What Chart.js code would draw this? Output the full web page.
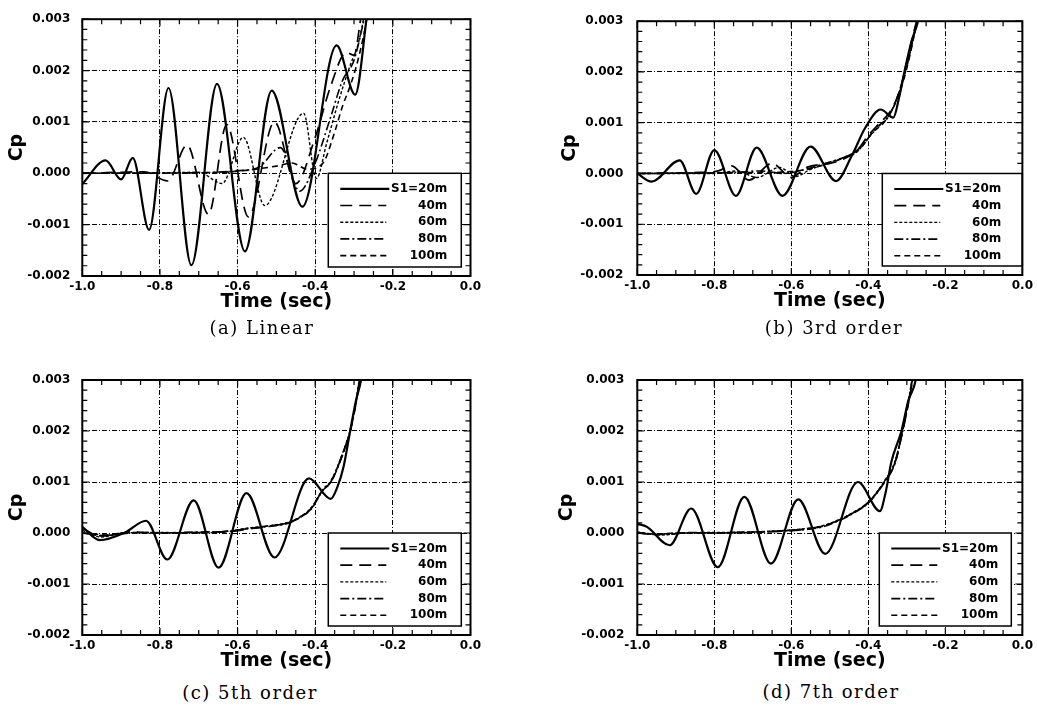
<!DOCTYPE html>
<html>
<head>
<meta charset="utf-8">
<script src="https://cdn.jsdelivr.net/npm/chart.js@4.4.1/dist/chart.umd.min.js"></script>
<style>
    html, body { margin: 0; padding: 0; background: #fff; }
    body { position: relative; width: 1037px; height: 708px; overflow: hidden; }
    .panel { position: absolute; }
    .cap { position: absolute; transform: translate(-50%, -50%); white-space: nowrap;
           font-family: "DejaVu Serif", serif; font-size: 18px; letter-spacing: 1.5px; color: #000; }
</style>
</head>
<body>
<div class="panel" style="left:0;top:0;width:518px;height:320px"><canvas id="chartA"></canvas></div>
<div class="panel" style="left:518px;top:0;width:519px;height:320px"><canvas id="chartB"></canvas></div>
<div class="panel" style="left:0;top:354px;width:518px;height:320px"><canvas id="chartC"></canvas></div>
<div class="panel" style="left:518px;top:354px;width:519px;height:320px"><canvas id="chartD"></canvas></div>
<div class="cap" style="left:262px;top:327px">(a) Linear</div>
<div class="cap" style="left:834px;top:327px">(b) 3rd order</div>
<div class="cap" style="left:250px;top:692px">(c) 5th order</div>
<div class="cap" style="left:831px;top:691px">(d) 7th order</div>
<script>
// -- axes --------------------------------------------------------------------
const TIME_TICKS = [-1.0, -0.8, -0.6, -0.4, -0.2, 0.0];
const TIME_LABELS = ['-1.0', '-0.8', '-0.6', '-0.4', '-0.2', '0.0'];
const CP_TICKS = [-0.002, -0.001, 0.000, 0.001, 0.002, 0.003];
const CP_LABELS = ['-0.002', '-0.001', '0.000', '0.001', '0.002', '0.003'];
const SERIES_LABELS = ['S1=20m', '40m', '60m', '80m', '100m'];

// -- (a) Linear : [time, Cp] -------------------------------------------------
const A_20 = [[-1.0, -0.00021], [-0.94, 0.00025], [-0.90, -0.00012], [-0.87, 0.0003], [-0.828, -0.0011],
    [-0.778, 0.00166], [-0.719, -0.00179], [-0.653, 0.00174], [-0.581, -0.00152], [-0.512, 0.00161],
    [-0.433, -0.00065], [-0.345, 0.00249], [-0.297, 0.00153], [-0.268, 0.003], [-0.25, 0.0042]];
const A_40 = [[-1.0, 0], [-0.90, 0.00002], [-0.84, 0.00003], [-0.78, -0.00015], [-0.73, 0.00055],
    [-0.675, -0.0008], [-0.628, 0.00095], [-0.572, -0.00085], [-0.505, 0.001], [-0.45, -0.0002],
    [-0.40, 0.0007], [-0.36, 0.0017], [-0.32, 0.00235], [-0.30, 0.0023], [-0.285, 0.0029], [-0.27, 0.0038]];
const A_60 = [[-1.0, 0], [-0.80, 0.00001], [-0.70, 0.00002], [-0.64, -0.0002], [-0.585, 0.0007],
    [-0.53, -0.00063], [-0.43, 0.00117], [-0.397, -0.0001], [-0.37, 0.0006], [-0.34, 0.0014],
    [-0.31, 0.0021], [-0.29, 0.0025], [-0.27, 0.0032]];
const A_80 = [[-1.0, 0], [-0.70, 0.00001], [-0.60, 0.00005], [-0.545, 0.00012], [-0.49, 0.0005],
    [-0.44, -0.00035], [-0.40, 0.0002], [-0.36, 0.0011], [-0.33, 0.0018], [-0.30, 0.0022],
    [-0.28, 0.0028], [-0.26, 0.0035]];
const A_100 = [[-1.0, 0], [-0.70, 0.00001], [-0.60, 0.00004], [-0.50, 0.00014], [-0.46, 0.0002],
    [-0.42, 0.00008], [-0.38, 0.0002], [-0.35, 0.0008], [-0.33, 0.0013], [-0.31, 0.0017],
    [-0.29, 0.0022], [-0.265, 0.0031], [-0.25, 0.0039]];

// -- (b) 3rd order -----------------------------------------------------------
const B_20 = [[-1.0, 0], [-0.963, -0.00016], [-0.89, 0.00026], [-0.847, -0.0004], [-0.80, 0.00046],
    [-0.744, -0.00044], [-0.69, 0.00051], [-0.623, -0.00044], [-0.55, 0.00053], [-0.484, -0.00015],
    [-0.443, 0.00035], [-0.408, 0.0009], [-0.368, 0.00126], [-0.335, 0.0011], [-0.32, 0.0015],
    [-0.305, 0.00205], [-0.288, 0.0026], [-0.271, 0.003], [-0.255, 0.0036]];
const B_40 = [[-1.0, 0], [-0.84, 0.00002], [-0.79, 0.00005], [-0.755, 0.00015], [-0.71, -0.00013],
    [-0.65, 0.0002], [-0.60, -0.00008], [-0.56, 0.00012], [-0.50, 0.0002], [-0.46, 0.0003],
    [-0.43, 0.00045], [-0.40, 0.00075], [-0.37, 0.001], [-0.345, 0.0012], [-0.32, 0.0016],
    [-0.30, 0.0022], [-0.285, 0.0027], [-0.275, 0.003], [-0.26, 0.0037]];
const B_60 = [[-1.0, 0], [-0.80, 0], [-0.74, 0.00005], [-0.69, -0.00008], [-0.63, 0.00012],
    [-0.59, -0.00006], [-0.55, 0.00008], [-0.50, 0.00022], [-0.46, 0.00032], [-0.43, 0.00042],
    [-0.40, 0.0007], [-0.37, 0.00095], [-0.345, 0.00115], [-0.32, 0.0016], [-0.30, 0.0021],
    [-0.285, 0.0026], [-0.273, 0.003], [-0.26, 0.0036]];
const B_80 = [[-1.0, 0], [-0.75, 0.00002], [-0.68, 0.00005], [-0.62, 0.0], [-0.58, 0.00005],
    [-0.52, 0.00018], [-0.47, 0.0003], [-0.44, 0.0004], [-0.41, 0.0006], [-0.38, 0.0009],
    [-0.35, 0.0011], [-0.325, 0.0015], [-0.305, 0.002], [-0.288, 0.0025], [-0.275, 0.003], [-0.26, 0.0037]];
const B_100 = [[-1.0, 0], [-0.70, 0.00002], [-0.62, 0.00003], [-0.56, 0.00008], [-0.52, 0.00016],
    [-0.48, 0.00026], [-0.45, 0.00036], [-0.42, 0.0005], [-0.39, 0.0008], [-0.36, 0.001],
    [-0.335, 0.0013], [-0.31, 0.0018], [-0.29, 0.0024], [-0.274, 0.003], [-0.26, 0.0036]];

// -- (c) 5th order -----------------------------------------------------------
const C_20 = [[-1.0, 0.00012], [-0.955, -0.00014], [-0.89, 0.00001], [-0.836, 0.00024], [-0.781, -0.00052],
    [-0.713, 0.00064], [-0.649, -0.00068], [-0.577, 0.00078], [-0.505, -0.00048], [-0.416, 0.00107],
    [-0.36, 0.00067], [-0.343, 0.0009], [-0.327, 0.0013], [-0.31, 0.002], [-0.295, 0.0026],
    [-0.282, 0.003], [-0.27, 0.0037]];
const C_40 = [[-1.0, 0.0001], [-0.96, -0.00005], [-0.92, -0.00004], [-0.88, 0.00002], [-0.80, 0.0],
    [-0.70, 0.00001], [-0.62, 0.00003], [-0.57, 0.00008], [-0.53, 0.00012], [-0.47, 0.0002],
    [-0.44, 0.0003], [-0.41, 0.00048], [-0.38, 0.00085], [-0.36, 0.001], [-0.327, 0.0016],
    [-0.31, 0.002], [-0.294, 0.0026], [-0.286, 0.003], [-0.27, 0.0038]];
const C_60 = [[-1.0, 0.00005], [-0.95, -0.00008], [-0.90, 0.0], [-0.80, 0.00001], [-0.70, 0.0],
    [-0.62, 0.00004], [-0.57, 0.0001], [-0.53, 0.00013], [-0.47, 0.00021], [-0.44, 0.00031],
    [-0.41, 0.0005], [-0.38, 0.00086], [-0.36, 0.00102], [-0.327, 0.00162], [-0.31, 0.00202],
    [-0.294, 0.00262], [-0.287, 0.003], [-0.27, 0.0038]];
const C_80 = [[-1.0, 0.0], [-0.94, -0.00006], [-0.88, 0.00001], [-0.80, 0.0], [-0.70, 0.00002],
    [-0.62, 0.00003], [-0.58, 0.00008], [-0.53, 0.00012], [-0.47, 0.00019], [-0.44, 0.0003],
    [-0.41, 0.00047], [-0.38, 0.00084], [-0.36, 0.00099], [-0.327, 0.00158], [-0.31, 0.00198],
    [-0.294, 0.00258], [-0.285, 0.003], [-0.27, 0.0038]];
const C_100 = [[-1.0, 0.0], [-0.93, -0.00004], [-0.86, 0.00001], [-0.80, 0.0], [-0.70, 0.00001],
    [-0.62, 0.00004], [-0.57, 0.00009], [-0.53, 0.00013], [-0.47, 0.0002], [-0.44, 0.00031],
    [-0.41, 0.00049], [-0.38, 0.00085], [-0.36, 0.001], [-0.327, 0.0016], [-0.31, 0.002],
    [-0.294, 0.0026], [-0.286, 0.003], [-0.27, 0.0038]];

// -- (d) 7th order -----------------------------------------------------------
const D_20 = [[-1.0, 0.00018], [-0.975, 0.00012], [-0.916, -0.00024], [-0.86, 0.00048], [-0.791, -0.00067],
    [-0.722, 0.00071], [-0.653, -0.0006], [-0.582, 0.00066], [-0.512, -0.00041], [-0.427, 0.001],
    [-0.37, 0.00043], [-0.355, 0.0008], [-0.34, 0.0014], [-0.314, 0.002], [-0.296, 0.0026],
    [-0.277, 0.003], [-0.265, 0.0037]];
const D_40 = [[-1.0, 0.0], [-0.95, -0.00003], [-0.90, 0.0], [-0.80, 0.0], [-0.70, 0.00002],
    [-0.62, 0.00004], [-0.56, 0.00008], [-0.52, 0.00013], [-0.48, 0.00024], [-0.443, 0.00038],
    [-0.40, 0.0006], [-0.36, 0.00098], [-0.33, 0.0014], [-0.314, 0.0019], [-0.30, 0.0024],
    [-0.286, 0.003], [-0.27, 0.0038]];
const D_60 = [[-1.0, 0.00002], [-0.94, -0.00004], [-0.88, 0.0], [-0.80, 0.00001], [-0.70, 0.00002],
    [-0.62, 0.00005], [-0.56, 0.00009], [-0.52, 0.00014], [-0.48, 0.00025], [-0.443, 0.00039],
    [-0.40, 0.00061], [-0.36, 0.001], [-0.33, 0.00142], [-0.314, 0.00192], [-0.30, 0.00242],
    [-0.287, 0.003], [-0.27, 0.0038]];
const D_80 = [[-1.0, 0.0], [-0.93, -0.00003], [-0.86, 0.00001], [-0.80, 0.0], [-0.70, 0.00001],
    [-0.62, 0.00004], [-0.56, 0.00007], [-0.52, 0.00012], [-0.48, 0.00023], [-0.443, 0.00037],
    [-0.40, 0.00059], [-0.36, 0.00097], [-0.33, 0.00138], [-0.314, 0.00188], [-0.30, 0.00238],
    [-0.285, 0.003], [-0.27, 0.0038]];
const D_100 = [[-1.0, 0.00001], [-0.95, -0.00002], [-0.90, 0.0], [-0.80, 0.0], [-0.70, 0.00002],
    [-0.62, 0.00004], [-0.56, 0.00008], [-0.52, 0.00013], [-0.48, 0.00024], [-0.443, 0.00038],
    [-0.40, 0.0006], [-0.36, 0.00099], [-0.33, 0.0014], [-0.314, 0.0019], [-0.30, 0.0024],
    [-0.286, 0.003], [-0.27, 0.0038]];

// line styles per S1 (solid, long dash, dotted, dash-dot, short dash)
const LINE_STYLES = [
    { dash: [], w: 2.2 },
    { dash: [12, 7], w: 1.7 },
    { dash: [3, 2], w: 1.4 },
    { dash: [9, 3, 2, 3], w: 1.6 },
    { dash: [6, 4], w: 1.6 },
];

Chart.defaults.font.family = '"DejaVu Sans", sans-serif';
Chart.defaults.color = '#000';

// frame box, inner minor ticks and the boxed legend
const frameAndLegend = {
    id: 'frameAndLegend',
    afterDatasetsDraw(chart, args, opts) {
        const { ctx, chartArea: a, scales: { x, y } } = chart;
        ctx.save();
        ctx.strokeStyle = '#000';
        ctx.lineWidth = 1.2;
        ctx.beginPath();
        for (let i = 0; i <= 20; i++) {
            const px = x.getPixelForValue(-1 + i * 0.05);
            const len = i % 4 === 0 ? 7 : 5;
            ctx.moveTo(px, a.bottom); ctx.lineTo(px, a.bottom - len);
            ctx.moveTo(px, a.top); ctx.lineTo(px, a.top + len);
        }
        for (let i = 0; i <= 25; i++) {
            const py = y.getPixelForValue(-0.002 + i * 0.0002);
            const len = i % 5 === 0 ? 7 : 5;
            ctx.moveTo(a.left, py); ctx.lineTo(a.left + len, py);
            ctx.moveTo(a.right, py); ctx.lineTo(a.right - len, py);
        }
        ctx.stroke();

        // legend box
        const bx = a.left + opts.left, by = y.getPixelForValue(0);
        const bw = opts.width, bh = a.bottom - 9 - by;
        ctx.fillStyle = '#fff';
        ctx.fillRect(bx, by, bw, bh);
        ctx.lineWidth = 1.5;
        ctx.strokeRect(bx, by, bw, bh);
        ctx.font = 'bold 12px "DejaVu Sans"';
        ctx.textAlign = 'right';
        ctx.textBaseline = 'middle';
        ctx.fillStyle = '#000';
        chart.data.datasets.forEach((ds, i) => {
            const ry = by + 15.5 + i * 16.7;
            ctx.setLineDash(ds.borderDash);
            ctx.lineWidth = ds.borderWidth;
            ctx.beginPath();
            ctx.moveTo(bx + 12, ry);
            ctx.lineTo(bx + (i === 0 ? 61 : 58), ry);
            ctx.stroke();
            ctx.setLineDash([]);
            ctx.fillText(ds.label, bx + 119, ry);
        });

        // frame
        ctx.lineWidth = 2;
        ctx.strokeRect(a.left, a.top, a.width, a.height);
        ctx.restore();
    },
};

function makePanel(id, series, lay) {
    new Chart(document.getElementById(id), {
        type: 'line',
        data: {
            datasets: series.map((s, i) => ({
                label: SERIES_LABELS[i],
                data: s.map(p => ({ x: p[0], y: p[1] })),
                borderColor: '#000',
                borderWidth: LINE_STYLES[i].w,
                borderDash: LINE_STYLES[i].dash,
                pointRadius: 0,
                cubicInterpolationMode: 'monotone',
                fill: false,
            })),
        },
        options: {
            responsive: true,
            maintainAspectRatio: false,
            animation: false,
            events: [],
            layout: { padding: { left: lay.padLeft, right: lay.padRight, top: lay.padTop, bottom: lay.padBottom } },
            plugins: {
                legend: { display: false },
                tooltip: { enabled: false },
                frameAndLegend: { left: lay.legLeft, width: lay.legW },
            },
            scales: {
                x: {
                    type: 'linear', min: -1, max: 0,
                    afterBuildTicks: s => { s.ticks = TIME_TICKS.map(v => ({ value: v })); },
                    afterFit: s => { s.height = 37; },
                    ticks: { callback: (v, i) => TIME_LABELS[i], font: { size: 12, weight: 'bold' }, padding: 4, maxRotation: 0, autoSkip: false },
                    grid: { color: '#000', lineWidth: 1, drawTicks: false },
                    border: { display: false, dash: [5, 2, 1, 2] },
                    title: { display: true, text: 'Time (sec)', font: { size: 19, weight: 'bold' }, padding: { top: 0, bottom: 0 } },
                },
                y: {
                    type: 'linear', min: -0.002, max: 0.003,
                    afterBuildTicks: s => { s.ticks = CP_TICKS.map(v => ({ value: v })); },
                    afterFit: s => { s.width = lay.yw; },
                    ticks: { callback: (v, i) => CP_LABELS[i], font: { size: 12, weight: 'bold' }, padding: lay.ytp, autoSkip: false },
                    grid: { color: '#000', lineWidth: 1, drawTicks: false },
                    border: { display: false, dash: [5, 2, 1, 2] },
                    title: { display: true, text: 'Cp', font: { size: 19, weight: 'bold' }, padding: { top: 5.3, bottom: 0 } },
                },
            },
        },
        plugins: [frameAndLegend],
    });
}

makePanel('chartA', [A_20, A_40, A_60, A_80, A_100],
    { padLeft: 0, padRight: 47.5, padTop: 19, padBottom: 7, yw: 82.3, ytp: 12, legLeft: 246, legW: 133 });
makePanel('chartB', [B_20, B_40, B_60, B_80, B_100],
    { padLeft: 35.3, padRight: 12, padTop: 19, padBottom: 8, yw: 84, ytp: 14, legLeft: 245, legW: 140 });
makePanel('chartC', [C_20, C_40, C_60, C_80, C_100],
    { padLeft: 0, padRight: 47.5, padTop: 26, padBottom: 2, yw: 82.3, ytp: 12, legLeft: 246, legW: 133 });
makePanel('chartD', [D_20, D_40, D_60, D_80, D_100],
    { padLeft: 32.8, padRight: 12, padTop: 26, padBottom: 2, yw: 86.5, ytp: 13, legLeft: 242, legW: 132 });
</script>
</body>
</html>
